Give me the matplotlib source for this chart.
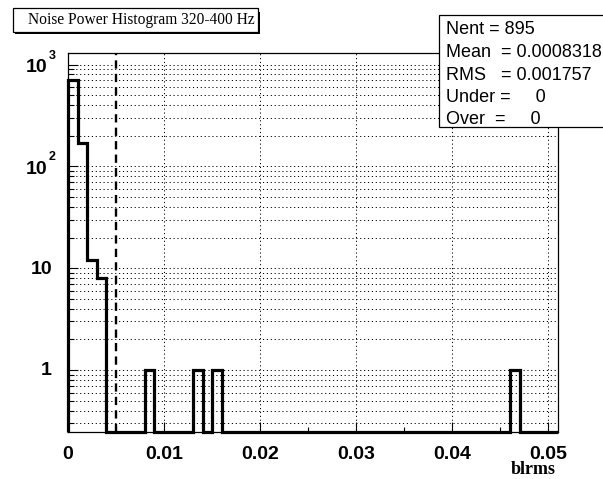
import numpy as np
import matplotlib
matplotlib.use("Agg")
import matplotlib.pyplot as plt
from matplotlib import transforms
from matplotlib.patches import Rectangle
from matplotlib.ticker import MultipleLocator, FixedLocator, LogLocator, NullFormatter

# Histogram of blrms, 51 bins of width 0.001
bin_edges = np.round(np.arange(0, 0.0515, 0.001), 4)
counts = np.zeros(51)
counts[0] = 702
counts[1] = 169
counts[2] = 12
counts[3] = 8
for b in [8, 13, 15, 46]:
    counts[b] = 1

title = "Noise Power Histogram 320-400 Hz"
xlabel = "blrms"
stats_lines = ["Nent = 895", "Mean  = 0.0008318", "RMS   = 0.001757",
               "Under =     0", "Over  =     0"]
cut_value = 0.005
xticks = [0, 0.01, 0.02, 0.03, 0.04, 0.05]
xtick_labels = ["0", "0.01", "0.02", "0.03", "0.04", "0.05"]
ymin, ymax = 0.246, 1309

W, H = 603, 479
fig = plt.figure(figsize=(W / 100, H / 100), dpi=100)
fig.patch.set_facecolor("white")


def fx(px):
    return px / W


def fy(py):
    return 1 - py / H


ax = fig.add_axes([fx(68), fy(432), fx(558) - fx(68), fy(52.7) - fy(432)])
ax.set_xlim(0, 0.051)
ax.set_yscale("log")
ax.set_ylim(ymin, ymax)

for s in ax.spines.values():
    s.set_linewidth(0.9)

# grid: vertical at major x ticks, horizontal at every y tick
grid_kw = dict(color="black", lw=0.7, linestyle=(0, (1.2, 2.8)), zorder=1)
for xv in xticks[1:]:
    ax.axvline(xv, **grid_kw)
ygrid = [m * 10.0 ** e for e in range(-1, 4) for m in range(1, 10)]
for yv in ygrid:
    if ymin < yv < ymax:
        ax.axhline(yv, **grid_kw)

# histogram outline
vals = np.where(counts > 0, counts, ymin)
ax.stairs(vals, bin_edges, baseline=ymin, color="black", lw=2.3,
          zorder=4, clip_on=False)

# cut line
ax.axvline(cut_value, color="black", lw=1.7, linestyle=(0, (3.5, 2.2)), zorder=3)

# ticks
ax.xaxis.set_major_locator(FixedLocator(xticks))
ax.xaxis.set_minor_locator(MultipleLocator(0.005))
ax.set_xticklabels(xtick_labels, fontfamily="Liberation Sans",
                   fontweight="bold", fontsize=14)
ax.tick_params(axis="x", which="major", direction="in", length=7, width=0.8, pad=10)
ax.tick_params(axis="x", which="minor", direction="in", length=3.5, width=0.8)
ax.yaxis.set_major_locator(LogLocator(base=10, numticks=10))
ax.yaxis.set_minor_locator(LogLocator(base=10, subs=np.arange(2, 10), numticks=20))
ax.yaxis.set_major_formatter(NullFormatter())
ax.yaxis.set_minor_formatter(NullFormatter())
ax.tick_params(axis="y", which="major", direction="in", length=7.5, width=0.8)
ax.tick_params(axis="y", which="minor", direction="in", length=4.5, width=0.8)

# y tick labels in ROOT style
ytr = ax.get_yaxis_transform()
lab_kw = dict(fontfamily="Liberation Sans", fontweight="bold", fontsize=14,
              va="center", ha="right")
for yv, txt in [(1, "1"), (10, "10")]:
    ax.text(0, yv, txt, transform=transforms.offset_copy(ytr, fig, x=-16, y=-1, units="dots"),
            **lab_kw)
for e in [2, 3]:
    ax.text(0, 10.0 ** e, "10",
            transform=transforms.offset_copy(ytr, fig, x=-21, y=-3, units="dots"), **lab_kw)
    ax.text(0, 10.0 ** e, str(e),
            transform=transforms.offset_copy(ytr, fig, x=-19, y=9, units="dots"),
            fontfamily="Liberation Sans", fontweight="bold", fontsize=9,
            va="center", ha="left")

# x axis title
fig.text(fx(556), fy(470), xlabel, fontfamily="Liberation Serif", fontweight="bold",
         fontsize=13, ha="right", va="center")

# title box with shadow
fig.patches.append(Rectangle((fx(14.5), fy(34)), fx(258) - fx(12.5), fy(10) - fy(32),
                             transform=fig.transFigure, facecolor="black",
                             edgecolor="none", zorder=5))
fig.patches.append(Rectangle((fx(12.5), fy(32)), fx(258) - fx(12.5), fy(8) - fy(32),
                             transform=fig.transFigure, facecolor="white",
                             edgecolor="black", lw=0.9, zorder=6))
fig.text(fx(141), fy(20), title, fontfamily="Liberation Serif", fontsize=11.2,
         ha="center", va="center", zorder=7)

# statistics box
stat_box = Rectangle((fx(439), fy(127)), fx(620) - fx(439), fy(15) - fy(127),
                     transform=fig.transFigure, facecolor="white",
                     edgecolor="black", lw=0.9, zorder=8)
fig.patches.append(stat_box)
for i, line in enumerate(stats_lines):
    t = fig.text(fx(446), fy(30 + 22.5 * i), line, fontfamily="Liberation Sans",
                 fontsize=13, ha="left", va="center", zorder=9)
    t.set_clip_path(stat_box)

fig.savefig("out.png", dpi=100, facecolor="white")
